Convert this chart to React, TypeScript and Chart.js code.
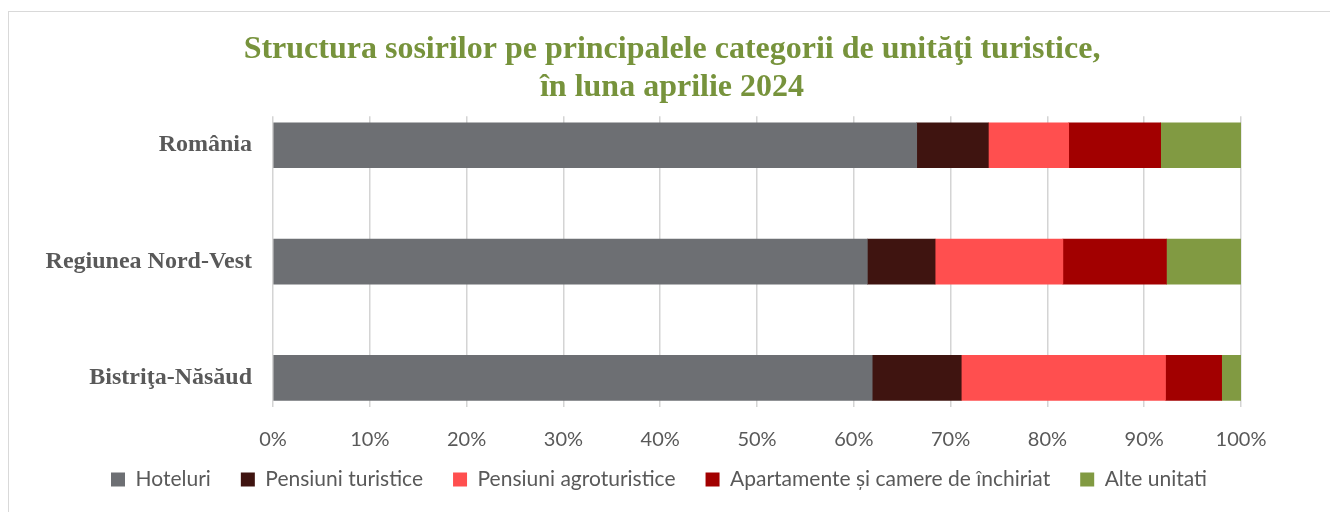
import { useEffect, useRef } from "react";
import { Chart, registerables } from "chart.js";

Chart.register(...registerables);

const categories = ["România", "Regiunea Nord-Vest", "Bistriţa-Năsăud"];
const seriesNames = [
  "Hoteluri",
  "Pensiuni turistice",
  "Pensiuni agroturistice",
  "Apartamente și camere de închiriat",
  "Alte unitati",
];
const hoteluri = [66.5, 61.4, 61.9];
const pensiuniTuristice = [7.4, 7.0, 9.2];
const pensiuniAgroturistice = [8.3, 13.2, 21.1];
const apartamente = [9.5, 10.7, 5.8];
const alteUnitati = [8.3, 7.7, 2.0];
const seriesColors = ["#6D6F73", "#3F1410", "#FF4F4F", "#A20000", "#819A42"];
const titleLines = [
  "Structura sosirilor pe principalele categorii de unităţi turistice,",
  "în luna aprilie 2024",
];

export default function App() {
  const ref = useRef<HTMLCanvasElement | null>(null);

  useEffect(() => {
    if (!ref.current) return;
    const allSeries = [hoteluri, pensiuniTuristice, pensiuniAgroturistice, apartamente, alteUnitati];
    const adjustBoxes = {
      id: "adjustBoxes",
      afterLayout(chart: any) {
        const t = chart.titleBlock;
        if (t) {
          t.left += 13;
          t.right += 13;
        }
        const y = chart.scales.y;
        if (y) {
          y.left = 0;
          y.width = y.right - y.left;
        }
        const x = chart.scales.x;
        if (x) {
          x.bottom = chart.height;
          x.height = x.bottom - x.top;
        }
      },
    };
    const chart = new Chart(ref.current, {
      type: "bar",
      data: {
        datasets: allSeries.map((vals, si) => ({
          label: seriesNames[si],
          data: vals.map((v, i) => ({ x: v, y: i })),
          backgroundColor: seriesColors[si],
          borderWidth: 0,
          barThickness: 45,
        })),
      },
      plugins: [adjustBoxes],
      options: {
        indexAxis: "y",
        responsive: false,
        animation: false,
        layout: { padding: { left: 77, right: 89, top: 0, bottom: 12 } },
        scales: {
          x: {
            type: "linear",
            stacked: true,
            min: 0,
            max: 100,
            ticks: {
              stepSize: 10,
              padding: 21,
              color: "#595959",
              font: { family: "Lato", size: 20 },
              callback: (v: any) => v + "%",
            },
            grid: { color: "#d4d4d4", lineWidth: 1.5, drawTicks: false },
            border: { display: false },
            afterFit: (scale: any) => {
              scale.height = 32;
            },
          },
          y: {
            type: "linear",
            stacked: true,
            reverse: true,
            offset: false,
            min: -0.25,
            max: 2.25,
            afterBuildTicks: (axis: any) => {
              axis.ticks = categories.map((_, i) => ({ value: i }));
            },
            ticks: {
              padding: 13,
              color: "#595959",
              font: { family: "Liberation Serif", size: 24, weight: "bold" },
              callback: (v: any) => categories[v] ?? "",
            },
            grid: { display: false },
            border: { display: false },
            afterFit: (scale: any) => {
              scale.width = 196;
            },
          },
        },
        plugins: {
          title: {
            display: true,
            text: titleLines,
            color: "#77933C",
            font: { family: "Liberation Serif", size: 32, weight: "bold", lineHeight: 1.19 },
            padding: { top: 31, bottom: 9 },
          },
          legend: {
            position: "bottom",
            labels: {
              boxWidth: 14,
              boxHeight: 14,
              padding: 30,
              color: "#595959",
              font: { family: "Lato", size: 21 },
            },
          },
          tooltip: { enabled: false },
        },
      },
    } as any);
    return () => chart.destroy();
  }, []);

  return (
    <div style={{ position: "fixed", left: 0, top: 0, width: 1330, height: 512, overflow: "hidden", background: "#fff" }}>
      <div
        style={{
          position: "absolute",
          left: 8,
          top: 11,
          width: 1400,
          height: 600,
          borderLeft: "1px solid #d9d9d9",
          borderTop: "1px solid #d9d9d9",
        }}
      />
      <canvas ref={ref} width={1330} height={512} style={{ position: "absolute", left: 0, top: 0 }} />
    </div>
  );
}
